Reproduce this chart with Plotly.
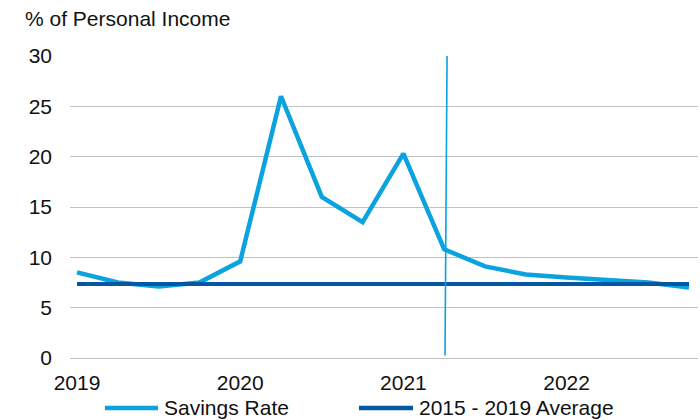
import plotly.graph_objects as go

# Quarterly personal savings rate, 2019 Q1 - 2022 Q4 (% of personal income)
quarters = ["2019 Q1", "2019 Q2", "2019 Q3", "2019 Q4",
            "2020 Q1", "2020 Q2", "2020 Q3", "2020 Q4",
            "2021 Q1", "2021 Q2", "2021 Q3", "2021 Q4",
            "2022 Q1", "2022 Q2", "2022 Q3", "2022 Q4"]
savings_rate = [8.5, 7.5, 7.1, 7.5, 9.6, 26.0, 16.0, 13.5,
                20.3, 10.8, 9.1, 8.3, 8.0, 7.7, 7.5, 7.0]
avg_2015_2019 = [7.35] * len(quarters)

year_ticks = [0, 4, 8, 12]
year_labels = ["2019", "2020", "2021", "2022"]

LIGHT = "#0AA2DF"
DARK = "#0457A3"
FONT = "Liberation Sans, Arial, sans-serif"
FS = 21

x = list(range(len(quarters)))

fig = go.Figure()
fig.add_trace(go.Scatter(x=x, y=savings_rate, mode="lines", name="Savings Rate",
                         line=dict(color=LIGHT, width=4.5), customdata=quarters,
                         hovertemplate="%{customdata}: %{y}%<extra></extra>"))
fig.add_trace(go.Scatter(x=x, y=avg_2015_2019, mode="lines", name="2015 - 2019 Average",
                         line=dict(color=DARK, width=4)))

# Marker line for 2021 Q2
fig.add_shape(type="line", xref="x", yref="y", x0=9.07, y0=30, x1=9.02, y1=0.25,
              line=dict(color=LIGHT, width=1.6), layer="above")

L, R, T, B = 70, 2, 56, 62
W, H = 700, 420
pw, ph = W - L - R, H - T - B


def px(xp):
    return (xp - L) / pw


def py(yp):
    return (H - B - yp) / ph


# Legend drawn as line samples + labels
legend_items = [("Savings Rate", LIGHT, 105, 158, 162),
                ("2015 - 2019 Average", DARK, 359, 413, 417)]
for label, color, x0, x1, tx in legend_items:
    fig.add_shape(type="line", xref="paper", yref="paper",
                  x0=px(x0), x1=px(x1), y0=py(408), y1=py(408),
                  line=dict(color=color, width=4.5))
    fig.add_annotation(xref="paper", yref="paper", x=px(tx), y=py(407),
                       text=label, showarrow=False, xanchor="left", yanchor="middle",
                       font=dict(size=FS, color="#111111", family=FONT))

fig.add_annotation(xref="paper", yref="paper", x=px(23), y=py(18),
                   text="% of Personal Income", showarrow=False,
                   xanchor="left", yanchor="middle",
                   font=dict(size=FS, color="#111111", family=FONT))

fig.update_layout(
    width=W, height=H,
    margin=dict(l=L, r=R, t=T, b=B),
    paper_bgcolor="white", plot_bgcolor="white",
    showlegend=False,
    font=dict(family=FONT, size=FS, color="#111111"),
    xaxis=dict(range=[(L - 77) / 40.8, (W - R - 77) / 40.8],
               tickvals=year_ticks, ticktext=year_labels,
               showgrid=False, zeroline=False, showline=False,
               ticks="", ticklabelstandoff=10),
    yaxis=dict(range=[0, 30], dtick=5, showgrid=True,
               gridcolor="#BEC2C2", gridwidth=1.3,
               zeroline=True, zerolinecolor="#BEC2C2", zerolinewidth=1.3,
               showline=False, ticks="", ticklabelstandoff=17),
)

fig.write_html("out.html")
